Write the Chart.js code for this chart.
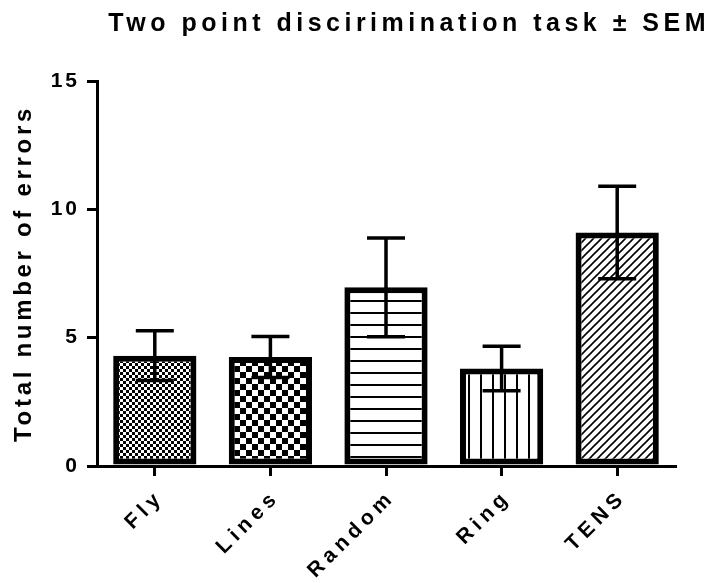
<!DOCTYPE html>
<html><head><meta charset="utf-8">
<script src="https://cdn.jsdelivr.net/npm/chart.js@4"></script>
<style>html,body{margin:0;padding:0;background:#fff}</style>
</head><body>
<canvas id="c" width="710" height="583"></canvas>
<script>
const categories = ['Fly', 'Lines', 'Random', 'Ring', 'TENS'];
const means = [4.3, 4.25, 6.96, 3.8, 9.1];
const sems = [0.97, 0.8, 1.92, 0.87, 1.8];
const yTickValues = [0, 5, 10, 15];
const titleText = 'Two point discirimination task \u00B1 SEM';
const yTitleText = 'Total number of errors';

const FONT = "'Liberation Sans', Arial, sans-serif";

function tile(w, h, draw) {
  const c = document.createElement('canvas');
  c.width = w; c.height = h;
  const g = c.getContext('2d');
  g.fillStyle = '#fff'; g.fillRect(0, 0, w, h);
  g.fillStyle = '#000'; g.strokeStyle = '#000';
  draw(g);
  return c;
}
const canvas = document.getElementById('c');
const ctx0 = canvas.getContext('2d');
const patterns = [
  tile(6, 6, g => { g.fillRect(0, 0, 3, 3); g.fillRect(3, 3, 3, 3); }),
  tile(12, 12, g => { g.fillRect(0, 0, 6, 6); g.fillRect(6, 6, 6, 6); }),
  tile(1, 12, g => { g.fillRect(0, 0, 1, 2); }),
  tile(12, 1, g => { g.fillRect(0, 0, 2, 1); }),
  tile(8, 8, g => { g.lineWidth = 1.6; g.beginPath(); for (const o of [-8, 0, 8]) { g.moveTo(o - 1, 9); g.lineTo(o + 9, -1); } g.stroke(); })
].map(c => ctx0.createPattern(c, 'repeat'));

const errorBars = {
  id: 'errorBars',
  afterDatasetsDraw(chart) {
    const { ctx } = chart;
    const y = chart.scales.y;
    const meta = chart.getDatasetMeta(0);
    ctx.save();
    ctx.strokeStyle = '#000';
    ctx.lineWidth = 3.5;
    meta.data.forEach((bar, i) => {
      const x = bar.x;
      const yt = y.getPixelForValue(means[i] + sems[i]);
      const yb = y.getPixelForValue(means[i] - sems[i]);
      const hw = 19;
      ctx.beginPath();
      ctx.moveTo(x, yt); ctx.lineTo(x, yb);
      ctx.moveTo(x - hw, yt); ctx.lineTo(x + hw, yt);
      ctx.moveTo(x - hw, yb); ctx.lineTo(x + hw, yb);
      ctx.stroke();
    });
    ctx.restore();
  }
};

function spaced(chart, obj, method, sp) {
  if (!obj || obj['__sp_' + method]) return;
  const orig = obj[method];
  obj[method] = function (...a) {
    const c = chart.ctx;
    const prev = c.letterSpacing;
    c.letterSpacing = sp;
    const r = orig.apply(this, a);
    c.letterSpacing = prev;
    return r;
  };
  obj['__sp_' + method] = true;
}
const letterSpacingPlugin = {
  id: 'letterSpacing',
  beforeDraw(chart) {
    spaced(chart, chart.titleBlock, 'draw', '4.5px');
    spaced(chart, chart.scales.y, 'drawTitle', '3.7px');
    spaced(chart, chart.scales.y, 'drawLabels', '3px');
    spaced(chart, chart.scales.x, 'drawLabels', '5px');
  }
};

new Chart(canvas, {
  type: 'bar',
  data: {
    labels: categories,
    datasets: [{
      data: means,
      backgroundColor: patterns,
      borderColor: '#000',
      borderWidth: 6,
      borderSkipped: false,
      barPercentage: 0.72,
      categoryPercentage: 1
    }]
  },
  options: {
    responsive: false,
    animation: false,
    layout: { padding: 0 },
    plugins: {
      legend: { display: false },
      tooltip: { enabled: false },
      title: {
        display: true,
        text: titleText,
        align: 'end',
        color: '#000',
        font: { family: FONT, size: 25, weight: 'bold', lineHeight: 1.2 },
        padding: { top: 9.5, bottom: 41.5 }
      }
    },
    scales: {
      x: {
        type: 'category',
        offset: true,
        grid: { display: true, drawOnChartArea: false, offset: false, color: '#000', lineWidth: 3, tickLength: 10 },
        border: { display: true, color: '#000', width: 3 },
        ticks: { color: '#000', font: { family: FONT, size: 21, weight: 'bold' }, minRotation: 45, maxRotation: 45, padding: 9, labelOffset: 6 },
        afterFit(s) { s.height = 117; }
      },
      y: {
        type: 'linear',
        min: 0, max: 15,
        afterBuildTicks(s) { s.ticks = yTickValues.map(v => ({ value: v })); },
        grid: { display: true, drawOnChartArea: false, color: '#000', lineWidth: 3, tickLength: 10 },
        border: { display: true, color: '#000', width: 3 },
        ticks: { color: '#000', font: { family: FONT, size: 21, weight: 'bold' }, padding: 7 },
        title: { display: true, text: yTitleText, color: '#000', font: { family: FONT, size: 24, weight: 'bold', lineHeight: 1.2 }, padding: { top: 10.3, bottom: 0 } },
        afterFit(s) { s.width = 97; }
      },
      y2: {
        type: 'linear',
        position: 'right',
        grid: { display: false },
        border: { display: false },
        ticks: { display: false },
        afterFit(s) { s.width = 35; }
      }
    }
  },
  plugins: [errorBars, letterSpacingPlugin]
});
</script>
</body></html>
